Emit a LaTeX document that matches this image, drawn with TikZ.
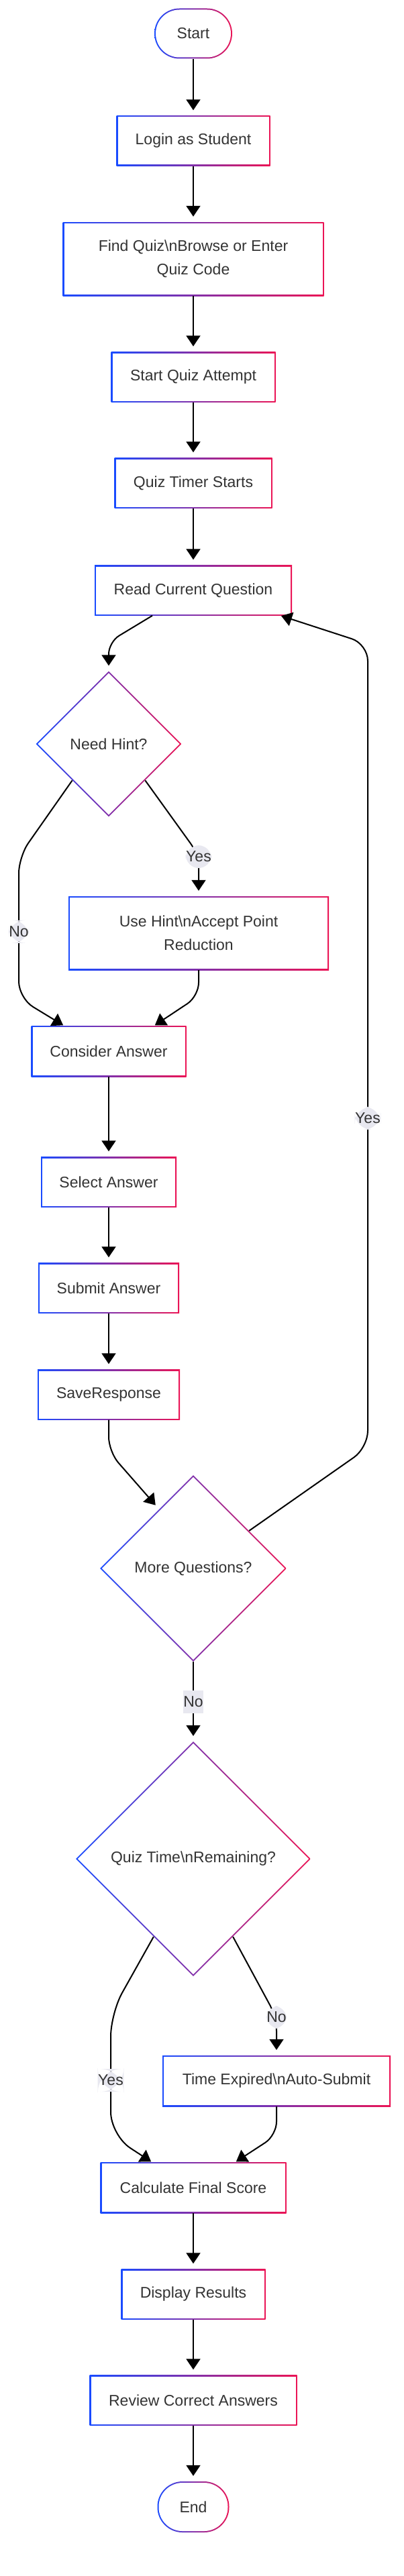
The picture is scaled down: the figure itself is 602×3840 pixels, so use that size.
\documentclass[tikz,border=0pt]{standalone}
\usepackage{fontspec}
\setmainfont{Liberation Sans}
\usepackage{tikz}
\usetikzlibrary{arrows.meta}
\usetikzlibrary{shapes.geometric}
\definecolor{qblue}{RGB}{25,75,255}
\definecolor{qred}{RGB}{235,20,85}
\definecolor{qtext}{RGB}{51,51,51}
\definecolor{qlbl}{RGB}{232,232,240}
\newcommand\qfont{\fontsize{23}{35}\selectfont}
\tikzset{
%border shaded from blue (left) to red (right), 2pt wide
box/.style={rectangle, minimum height=75pt, align=center, text=qtext, font=\qfont,
  path picture={
  \shade[left color=qblue, right color=qred] (path picture bounding box.south west) rectangle (path picture bounding box.north east);
  \fill[white] ([shift={(2pt,2pt)}]path picture bounding box.south west) rectangle ([shift={(-2pt,-2pt)}]path picture bounding box.north east);}},
term/.style={rectangle, rounded corners=37.5pt, minimum height=75pt, text=qtext, font=\qfont,
  path picture={
  \shade[left color=qblue, right color=qred] (path picture bounding box.south west) rectangle (path picture bounding box.north east);
  \fill[white, rounded corners=35.5pt] ([shift={(2pt,2pt)}]path picture bounding box.south west) rectangle ([shift={(-2pt,-2pt)}]path picture bounding box.north east);}},
decide/.style={diamond, inner sep=0pt, align=center, text=qtext, font=\qfont,
  path picture={
  \shade[left color=qblue, right color=qred] (path picture bounding box.south west) rectangle (path picture bounding box.north east);
  \fill[white] ([yshift=-2.8pt]path picture bounding box.north) -- ([xshift=-2.8pt]path picture bounding box.east) -- ([yshift=2.8pt]path picture bounding box.south) -- ([xshift=2.8pt]path picture bounding box.west) -- cycle;}},
flow/.style={-{Triangle[length=16pt,width=21pt]}, line width=2pt, shorten >=8pt},
lbl/.style={fill=qlbl, text=qtext, font=\qfont, inner xsep=0.5pt, inner ysep=0pt, minimum height=34pt}
}

\begin{document}
\begin{tikzpicture}[x=1pt,y=1pt]
\path[fill=white] (0,0) rectangle (602,-3840);
\useasboundingbox (0,0) rectangle (602,-3840);

% steps
\node[term, minimum width=116pt] (start) at (288,-50) {Start};
\node[box, minimum width=229pt] (login) at (288,-210) {Login as Student};
\node[box, minimum width=389pt, minimum height=110pt] (find) at (288,-386) {Find Quiz\textbackslash nBrowse or Enter\\Quiz Code};
\node[box, minimum width=245pt] (attempt) at (288,-562) {Start Quiz Attempt};
\node[box, minimum width=235pt] (timer) at (288,-720) {Quiz Timer Starts};
\node[box, minimum width=294pt] (read) at (288,-880) {Read Current Question};
\node[decide, minimum width=217pt, minimum height=217pt] (hint) at (162,-1109) {Need Hint?};
\node[box, minimum width=388pt, minimum height=110pt] (usehint) at (296,-1391) {Use Hint\textbackslash nAccept Point\\Reduction};
\node[box, minimum width=231pt, minimum height=76pt] (consider) at (162,-1567) {Consider Answer};
\node[box, minimum width=202pt] (select) at (162,-1762) {Select Answer};
\node[box, minimum width=210pt] (submit) at (162,-1920) {Submit Answer};
\node[box, minimum width=212pt] (save) at (162,-2079) {SaveResponse};
\node[decide, minimum width=278pt, minimum height=278pt] (more) at (288,-2338) {More Questions?};
\node[decide, minimum width=350pt, minimum height=350pt] (quizt) at (288,-2771) {Quiz Time\textbackslash nRemaining?};
\node[box, minimum width=340pt, minimum height=76pt] (expired) at (412,-3102) {Time Expired\textbackslash nAuto-Submit};
\node[box, minimum width=277pt, minimum height=76pt] (calc) at (288,-3261) {Calculate Final Score};
\node[box, minimum width=215pt] (display) at (288,-3420) {Display Results};
\node[box, minimum width=309pt] (review) at (288,-3578) {Review Correct Answers};
\node[term, minimum width=107pt, minimum height=76pt] (finish) at (288,-3737) {End};

% straight arrows
\draw[flow] (start) -- (login);
\draw[flow] (login) -- (find);
\draw[flow] (find) -- (attempt);
\draw[flow] (attempt) -- (timer);
\draw[flow] (timer) -- (read);
\draw[flow] (consider) -- (select);
\draw[flow] (select) -- (submit);
\draw[flow] (submit) -- (save);
\draw[flow] (calc) -- (display);
\draw[flow] (display) -- (review);
\draw[flow] (review) -- (finish);

% hint branch
\draw[flow, rounded corners=18pt] ([xshift=-61pt]read.south) -- (162,-957) -- (hint.north);
\draw[flow, rounded corners=20pt] (hint.south east) -- (296,-1274) -- node[lbl, pos=0.05] (yeshint) {Yes} (usehint.north);
\draw[flow, rounded corners=25pt, shorten >=1pt] (hint.south west) -- (28,-1277) -- node[lbl, pos=0.53] (nohint) {No} (28,-1488) -- ([xshift=-67pt]consider.north);
\draw[flow, rounded corners=20pt, shorten >=1pt] (usehint.south) -- (296,-1485) -- ([xshift=68pt]consider.north);

% question loop
\draw[flow, rounded corners=22pt] (save.south) -- (162,-2164) -- (more.120);
\draw[flow, rounded corners=25pt, shorten >=1pt] (more.34) -- (548,-2158) -- node[lbl, pos=0.41] (yesmore) {Yes} (548,-960) -- ([xshift=130pt]read.south);
\draw[flow] (more) -- node[lbl] (nomore) {No} (quizt);

% time check
\draw[flow, rounded corners=35pt, shorten >=1pt] (quizt.243) -- (165,-3001) -- node[lbl, pos=0.55] (yesquiz) {Yes} (165,-3183) -- ([xshift=-62pt]calc.north);
\draw[flow, rounded corners=20pt] (quizt.297) -- (412,-3007) -- node[lbl, pos=0] (noquiz) {No} (expired.north);
\draw[flow, rounded corners=20pt, shorten >=1pt] (expired.south) -- (412,-3183) -- ([xshift=63pt]calc.north);

\end{tikzpicture}
\end{document}
